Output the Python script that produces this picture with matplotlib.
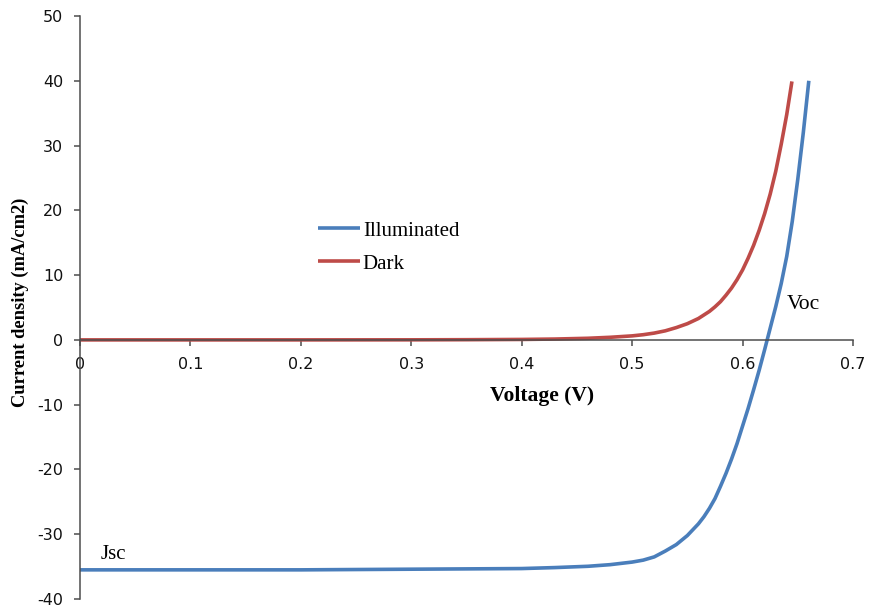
import matplotlib
matplotlib.use("Agg")
import matplotlib.pyplot as plt

plt.rcParams["axes.unicode_minus"] = False

# Data
illum_v = [0.0, 0.1, 0.2, 0.3, 0.35, 0.4, 0.43, 0.46, 0.48, 0.50, 0.51, 0.52, 0.53, 0.54,
           0.55, 0.56, 0.565, 0.57, 0.575, 0.58, 0.585, 0.59, 0.595, 0.60, 0.605, 0.61,
           0.615, 0.62, 0.625, 0.63, 0.635, 0.64, 0.645, 0.65, 0.655, 0.660]
illum_j = [-35.5, -35.5, -35.5, -35.4, -35.35, -35.3, -35.15, -34.95, -34.7, -34.3, -34.0,
           -33.5, -32.6, -31.6, -30.2, -28.4, -27.3, -26.0, -24.5, -22.6, -20.6, -18.4,
           -16.0, -13.3, -10.6, -7.7, -4.7, -1.5, 1.8, 5.1, 8.7, 12.9, 18.3, 24.8, 32.0, 40.0]

dark_v = [0.0, 0.1, 0.2, 0.3, 0.35, 0.4, 0.43, 0.46, 0.48, 0.50, 0.51, 0.52, 0.53, 0.54,
          0.55, 0.56, 0.57, 0.575, 0.58, 0.585, 0.59, 0.595, 0.60, 0.605, 0.61, 0.615,
          0.62, 0.625, 0.63, 0.635, 0.64, 0.6447]
dark_j = [0.0, 0.0, 0.0, 0.01, 0.03, 0.07, 0.13, 0.25, 0.4, 0.62, 0.8, 1.05, 1.4, 1.9,
          2.5, 3.3, 4.4, 5.1, 5.9, 6.9, 8.0, 9.3, 10.8, 12.6, 14.6, 16.9,
          19.5, 22.5, 26.0, 30.2, 34.8, 39.9]

x_ticks = [0, 0.1, 0.2, 0.3, 0.4, 0.5, 0.6, 0.7]
x_tick_labels = ["0", "0.1", "0.2", "0.3", "0.4", "0.5", "0.6", "0.7"]
y_ticks = [-40, -30, -20, -10, 0, 10, 20, 30, 40, 50]

BLUE = "#4A7EBB"
RED = "#BE4B48"
AXC = "#4d4d4d"
SERIF = "Liberation Serif"

W, H = 869, 609
fig = plt.figure(figsize=(W / 100, H / 100), dpi=100)
ax = fig.add_axes([80 / W, (H - 599) / H, 773 / W, 583 / H])

l1, = ax.plot(illum_v, illum_j, color=BLUE, lw=2.6, solid_capstyle="butt",
              solid_joinstyle="round", label="Illuminated")
l2, = ax.plot(dark_v, dark_j, color=RED, lw=2.6, solid_capstyle="butt",
              solid_joinstyle="round", label="Dark")

ax.set_xlim(0, 0.7)
ax.set_ylim(-40, 50)
ax.set_xticks(x_ticks)
ax.set_xticklabels(x_tick_labels)
ax.set_yticks(y_ticks)

for s in ["top", "right"]:
    ax.spines[s].set_visible(False)
ax.spines["bottom"].set_position(("data", 0))
for s in ["left", "bottom"]:
    ax.spines[s].set_color(AXC)
    ax.spines[s].set_linewidth(1.1)

ax.tick_params(axis="both", direction="out", length=4, width=1.1, color=AXC,
               labelsize=11.5, labelcolor="#111111", pad=8)
for lab in ax.get_xticklabels() + ax.get_yticklabels():
    lab.set_family("DejaVu Sans")

fig.text(542 / W, 1 - 396 / H, "Voltage (V)", ha="center", va="center",
         fontsize=15.5, fontweight="bold", family=SERIF)
fig.text(20 / W, 1 - 302.5 / H, "Current density (mA/cm2)", ha="center", va="center",
         rotation=90, fontsize=13.3, fontweight="bold", family=SERIF)

ax.text(0.640, 5.4, "Voc", fontsize=15.5, family=SERIF, ha="left", va="center")
ax.text(0.019, -33.2, "Jsc", fontsize=15, family=SERIF, ha="left", va="center")

leg = ax.legend(handles=[l1, l2], loc="upper left",
                bbox_to_anchor=(318 / W, 1 - 221 / H), bbox_transform=fig.transFigure,
                frameon=False, borderpad=0, borderaxespad=0, handlelength=2.0,
                handletextpad=0.15, labelspacing=0.65,
                prop={"family": SERIF, "size": 15})

fig.savefig("out.png", dpi=100)
